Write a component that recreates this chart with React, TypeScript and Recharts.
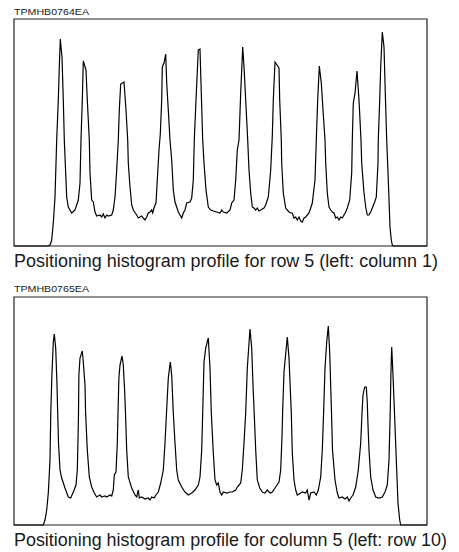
import { LineChart, Line, XAxis, YAxis, ReferenceArea } from "recharts";

// position (channel) / counts pairs
const rowProfile: [number, number][] = [
  [0, 0], [34, 0], [36, 1], [37.7, 6], [39.3, 23], [41, 49], [42.7, 106], [44.3, 146], [45.3, 179], [46.3, 207],
  [47, 199], [48, 189], [49.3, 146], [50.3, 106], [52.7, 49], [54.3, 39], [57.7, 33], [61, 36], [64.3, 46], [66, 63],
  [67, 106], [68.3, 146], [69.3, 185], [72, 176], [73.3, 146], [75.3, 106], [76, 73], [77.7, 46], [79.3, 44], [81, 34],
  [82.7, 30], [86, 31], [87.7, 29], [89.3, 32], [91, 28], [92.7, 31], [94.3, 30], [97.7, 31], [99.3, 36], [101, 49],
  [102.7, 76], [104.3, 106], [105.3, 136], [106.7, 162], [110, 164], [112, 136], [113.7, 106], [114.3, 83], [116, 59], [117.7, 41],
  [119.3, 36], [122.7, 31], [124.3, 28], [126, 29], [127.7, 30], [129.3, 28], [131, 26], [132.7, 29], [134.3, 33], [136, 34],
  [137.7, 36], [138.7, 33], [140, 38], [142, 43], [143.3, 66], [145, 96], [146.3, 112], [147.7, 146], [148.3, 179], [150, 183],
  [151.7, 192], [152.7, 163], [154.3, 136], [156, 106], [157.7, 86], [159.3, 56], [161, 44], [162.7, 39], [164.3, 34], [166, 31],
  [167.7, 28], [169.3, 33], [171, 36], [172.7, 43], [176, 44], [177.7, 48], [179.3, 66], [180.3, 106], [182, 146], [184.3, 196],
  [186, 197], [187, 163], [188.7, 106], [190, 83], [192, 56], [194.3, 39], [196.7, 36], [199.3, 35], [202.7, 34], [206, 33],
  [207.7, 36], [209.3, 34], [212.7, 33], [216, 36], [217.7, 43], [220, 46], [221.7, 66], [223.3, 96], [225, 106], [226.7, 153],
  [228.7, 199], [230, 179], [231.7, 146], [233.7, 106], [235, 76], [236.7, 53], [238.3, 39], [240, 38], [241.7, 36], [243.3, 38],
  [245, 35], [246.7, 36], [248.3, 37], [250, 38], [251.7, 41], [254.3, 49], [256.7, 76], [258.3, 110], [259.3, 146], [261, 184],
  [265, 178], [265.7, 146], [267.3, 106], [267.7, 83], [269.3, 53], [271.7, 38], [273.3, 36], [275, 34], [276.7, 33], [278.3, 33],
  [280, 28], [281.7, 29], [283.3, 26], [285, 29], [286.7, 25], [288.3, 24], [290, 28], [291.7, 29], [293.3, 31], [295, 33],
  [296.7, 38], [298.3, 43], [301, 66], [302.3, 106], [303.7, 146], [305.3, 180], [307.3, 163], [309, 136], [311, 106], [311.7, 83],
  [313.3, 53], [315, 39], [316.7, 36], [318.3, 34], [320, 33], [321.7, 28], [323.3, 29], [325, 26], [326.7, 29], [328.3, 28],
  [330, 31], [331.7, 34], [333.3, 38], [335.7, 46], [337.7, 73], [338.3, 106], [339.3, 143], [341, 153], [343, 175], [345, 146],
  [347, 106], [347.7, 83], [350, 53], [351.7, 39], [353.3, 31], [355, 31], [356.7, 34], [358.3, 38], [360.7, 44], [362.3, 49],
  [364, 83], [364.3, 106], [365.7, 146], [366.7, 179], [368.3, 214], [370, 199], [371, 163], [372.7, 106], [374.3, 66], [376, 19],
  [377.3, 6], [378.3, 1], [379.3, 0], [413, 0],
];

const columnProfile: [number, number][] = [
  [0, 0], [29.3, 0], [31, 5], [32.7, 15], [34.3, 32], [36, 65], [36.8, 112], [37.9, 150], [39.3, 183], [40.3, 191],
  [41.7, 177], [43, 140], [43.7, 112], [44.5, 82], [46, 55], [47.7, 47], [51, 37], [54.3, 28], [56.7, 27], [59.3, 33],
  [62, 40], [63.3, 55], [64, 85], [64.5, 112], [64.9, 150], [66, 167], [68.3, 174], [69.3, 163], [71, 140], [71.6, 112],
  [73.3, 75], [75.3, 48], [77.7, 38], [80.3, 32], [82.7, 28], [86, 30], [87.7, 28], [91, 29], [92.7, 28], [96, 30],
  [97.7, 29], [99.3, 35], [100.3, 50], [102, 53], [103.3, 82], [104, 112], [104.9, 147], [106, 160], [108, 169], [109.3, 160],
  [110.7, 133], [111.5, 112], [112.7, 75], [114.3, 48], [117.7, 37], [121, 30], [122.7, 28], [124.3, 35], [125.3, 27], [127.7, 28],
  [131, 26], [134.3, 27], [136, 25], [137.7, 28], [140, 27], [142, 30], [144.3, 33], [146.7, 42], [149.3, 55], [151, 82],
  [152.5, 112], [154.3, 147], [156.3, 163], [157.7, 150], [159.3, 112], [161, 82], [162.7, 55], [164.3, 45], [167.7, 38], [171, 33],
  [174.3, 30], [177.7, 32], [181, 35], [184.3, 40], [186, 48], [187.7, 75], [188.7, 112], [190, 163], [191.7, 177], [194.3, 187],
  [196, 157], [197.3, 112], [199.3, 72], [201, 45], [202.7, 40], [204.3, 42], [206, 33], [207.7, 30], [209.3, 33], [212.7, 32],
  [216, 33], [218.3, 33], [221.7, 35], [223.3, 38], [226.7, 42], [228.3, 55], [230, 82], [231.7, 112], [233.3, 157], [236, 196],
  [237.7, 177], [239, 140], [240.2, 112], [241.7, 75], [243.3, 45], [245.7, 37], [248.3, 33], [251, 32], [253.3, 35], [255, 33],
  [256.7, 32], [258.3, 33], [261.7, 38], [265, 43], [266.7, 55], [268, 88], [268.6, 112], [270, 153], [273.3, 188], [275, 167],
  [277.3, 112], [278.3, 72], [280, 45], [281.7, 35], [283.3, 30], [286.7, 32], [288.3, 33], [291.7, 32], [293.3, 35], [295, 25],
  [296.7, 32], [300, 33], [302.3, 30], [304.3, 35], [306.7, 48], [308.3, 75], [309.6, 112], [311, 157], [312.7, 183], [314.3, 199],
  [315.7, 173], [317.5, 112], [318.5, 75], [321, 45], [323.3, 32], [325, 27], [328.3, 28], [331, 26], [333.3, 28], [335, 24],
  [336.7, 27], [339, 30], [341.7, 38], [344.3, 55], [346.7, 82], [348, 112], [349, 130], [350.7, 138], [352.3, 138], [353.3, 122],
  [354, 100], [355, 75], [356.7, 48], [359, 35], [361.7, 28], [365, 27], [368.3, 28], [371, 33], [373.3, 40], [375, 65],
  [376.2, 112], [376.9, 150], [377.7, 178], [379, 150], [380.5, 112], [382.3, 65], [384, 22], [385.7, 5], [386.7, 0], [413, 0],
];

const labels = ["TPMHB0764EA", "TPMHB0765EA"];
const captions = [
  "Positioning histogram profile for row 5 (left: column 1)",
  "Positioning histogram profile for column 5 (left: row 10)",
];

const X_MAX = 413;
const FONT = "'Liberation Sans', Arial, Helvetica, sans-serif";

function Profile({
  points,
  yMax,
  top,
  marginTop,
  marginBottom,
}: {
  points: [number, number][];
  yMax: number;
  top: number;
  marginTop: number;
  marginBottom: number;
}) {
  const data = points.map(([x, v]) => ({ x, v }));
  return (
    <div style={{ position: "absolute", left: 0, top }}>
      <LineChart
        width={459}
        height={250}
        data={data}
        margin={{ top: marginTop, right: 32, bottom: marginBottom, left: 14 }}
      >
        <XAxis dataKey="x" type="number" domain={[0, X_MAX]} hide />
        <YAxis type="number" domain={[0, yMax]} hide />
        <ReferenceArea
          x1={0}
          x2={X_MAX}
          y1={0}
          y2={yMax}
          fill="none"
          stroke="#222"
          strokeWidth={1.2}
          fillOpacity={0}
        />
        <Line
          type="linear"
          dataKey="v"
          stroke="#000"
          strokeWidth={1.2}
          dot={false}
          activeDot={false}
          isAnimationActive={false}
        />
      </LineChart>
    </div>
  );
}

export default function App() {
  return (
    <div
      style={{
        position: "absolute",
        left: 0,
        top: 0,
        width: 459,
        height: 552,
        background: "#fff",
      }}
    >
      <Profile points={rowProfile} yMax={227} top={0} marginTop={19} marginBottom={4} />
      <Profile points={columnProfile} yMax={228} top={280} marginTop={17} marginBottom={5} />
      <svg
        width={459}
        height={552}
        style={{ position: "absolute", left: 0, top: 0, pointerEvents: "none" }}
      >
        <text x={14} y={14.7} fontFamily={FONT} fontSize={8.5} fill="#222" textLength={75} lengthAdjust="spacingAndGlyphs">
          {labels[0]}
        </text>
        <text x={14} y={267} fontFamily={FONT} fontSize={18} fill="#1a1a1a" textLength={424} lengthAdjust="spacingAndGlyphs">
          {captions[0]}
        </text>
        <text x={14} y={292.3} fontFamily={FONT} fontSize={8.5} fill="#222" textLength={75} lengthAdjust="spacingAndGlyphs">
          {labels[1]}
        </text>
        <text x={14} y={546.3} fontFamily={FONT} fontSize={18} fill="#1a1a1a" textLength={433} lengthAdjust="spacingAndGlyphs">
          {captions[1]}
        </text>
      </svg>
    </div>
  );
}
